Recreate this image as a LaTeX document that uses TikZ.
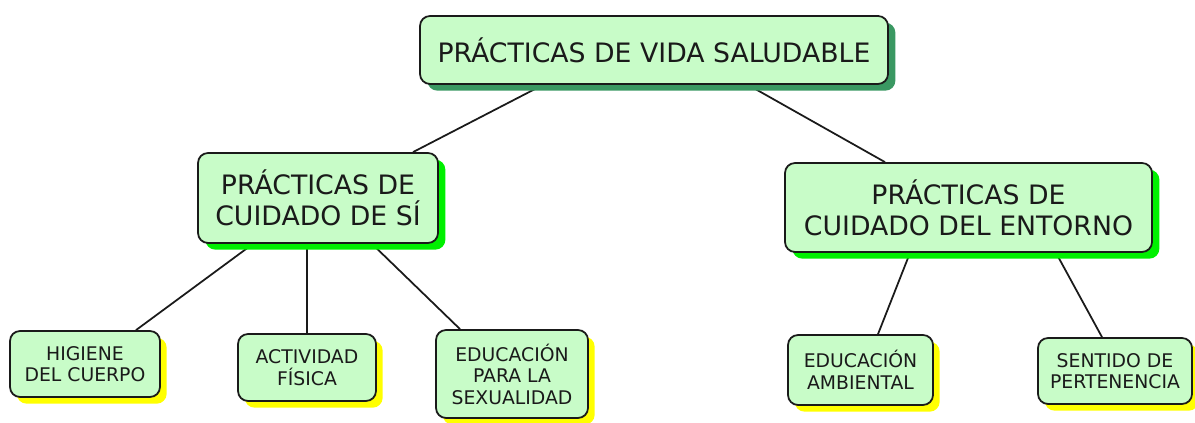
\documentclass[tikz,border=0pt]{standalone}
\usepackage{fontspec}
\setmainfont{DejaVu Sans}
\usetikzlibrary{shadows,backgrounds}

\definecolor{boxfill}{HTML}{C8FCC8}
\definecolor{darkshadow}{HTML}{3A9862}
\definecolor{greenshadow}{HTML}{00F000}
\definecolor{yellowshadow}{HTML}{FFFF00}
\definecolor{inkcol}{HTML}{1A1A1A}

\tikzset{
  concept/.style={draw=inkcol, line width=1pt, rounded corners=5.7pt, fill=boxfill,
    align=center, text=inkcol, inner sep=0pt},
  topbox/.style={concept, minimum width=9.36cm, minimum height=1.36cm,
    font=\fontsize{15.2}{17.5}\selectfont,
    drop shadow={shadow xshift=4.2pt, shadow yshift=-3.8pt, fill=darkshadow, opacity=1}},
  midbox/.style={concept, font=\fontsize{15.2}{17.5}\selectfont,
    drop shadow={shadow xshift=4.2pt, shadow yshift=-3.8pt, fill=greenshadow, opacity=1}},
  leafbox/.style={concept, font=\fontsize{10.7}{12.2}\selectfont,
    drop shadow={shadow xshift=3.8pt, shadow yshift=-3.8pt, fill=yellowshadow, opacity=1}},
  link/.style={draw=inkcol, line width=1pt}
}

\begin{document}
\begin{tikzpicture}
\useasboundingbox (0,0) rectangle (23.9,8.46);

%% main concept
\node[topbox](vida) at (13.08,7.46){PRÁCTICAS DE VIDA SALUDABLE};

%% second level
\node[midbox, minimum width=4.8cm, minimum height=1.8cm](cuidado_si) at (6.36,4.50){PRÁCTICAS DE\\CUIDADO DE SÍ};
\node[midbox, minimum width=7.34cm, minimum height=1.78cm](cuidado_entorno) at (19.37,4.31){PRÁCTICAS DE\\CUIDADO DEL ENTORNO};

%% leaves of cuidado de si
\node[leafbox, minimum width=3.0cm, minimum height=1.32cm](higiene) at (1.70,1.18){HIGIENE\\DEL CUERPO};
\node[leafbox, minimum width=2.76cm, minimum height=1.34cm](actividad) at (6.14,1.11){ACTIVIDAD\\FÍSICA};
\node[leafbox, minimum width=3.04cm, minimum height=1.76cm](sexualidad) at (10.24,0.98){EDUCACIÓN\\PARA LA\\SEXUALIDAD};

%% leaves of cuidado del entorno
\node[leafbox, minimum width=2.9cm, minimum height=1.4cm](ambiental) at (17.21,1.06){EDUCACIÓN\\AMBIENTAL};
\node[leafbox, minimum width=3.08cm, minimum height=1.32cm](pertenencia) at (22.30,1.04){SENTIDO DE\\PERTENENCIA};

%% links
\begin{pgfonlayer}{background}
\draw[link] ([xshift=-2.22cm]vida.south) -- ([xshift=1.9cm]cuidado_si.north);
\draw[link] ([xshift=1.88cm]vida.south) -- ([xshift=-1.67cm]cuidado_entorno.north);

\draw[link] ([xshift=-1.3cm]cuidado_si.south) -- ([xshift=1.02cm]higiene.north);
\draw[link] ([xshift=-0.22cm]cuidado_si.south) -- (actividad.north);
\draw[link] ([xshift=1.08cm]cuidado_si.south) -- ([xshift=-1.04cm]sexualidad.north);

\draw[link] ([xshift=-1.17cm]cuidado_entorno.south) -- ([xshift=0.35cm]ambiental.north);
\draw[link] ([xshift=1.75cm]cuidado_entorno.south) -- ([xshift=-0.26cm]pertenencia.north);
\end{pgfonlayer}

\end{tikzpicture}
\end{document}
